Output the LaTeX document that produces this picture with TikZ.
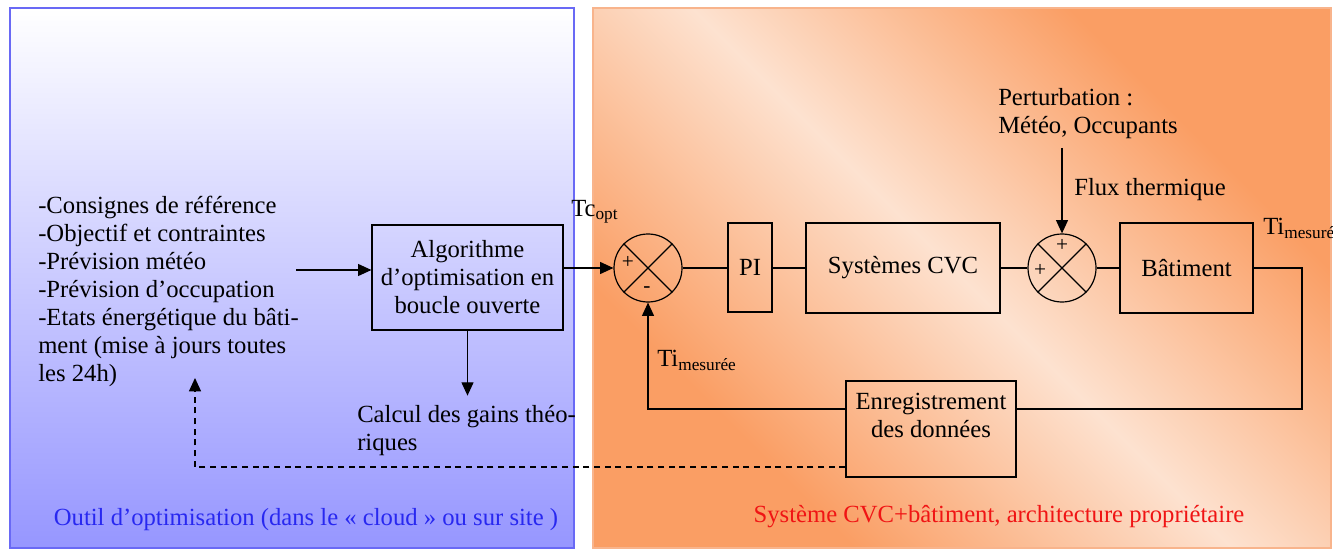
\documentclass[tikz,border=0pt]{standalone}
\usepackage{fontspec}
\setmainfont{Liberation Serif}
\newfontfamily\lserif{Liberation Serif}
\usetikzlibrary{arrows.meta,calc}
\definecolor{blueB}{RGB}{105,105,245}
\definecolor{blueL}{RGB}{150,150,255}
\definecolor{orD}{RGB}{250,158,100}
\definecolor{orL}{RGB}{253,226,208}
\definecolor{orB}{RGB}{248,180,140}
\definecolor{txtblue}{RGB}{40,40,240}
\definecolor{txtred}{RGB}{240,20,20}
\pgfdeclarehorizontalshading{peach}{100bp}{color(0bp)=(orD); color(29bp)=(orD); color(50bp)=(orL); color(71bp)=(orD); color(100bp)=(orD)}
\begin{document}
\begin{tikzpicture}[x=0.75pt,y=-0.75pt,
 every node/.style={font=\lserif\fontsize{18.5}{21}\selectfont},
 lw/.style={line width=0.9pt},
 blk/.style={draw, lw, align=center, inner sep=2pt},
 summer/.style={draw, lw, circle, minimum size=51pt, inner sep=0pt},
 arr/.style={lw, -{Triangle[length=10pt,width=9pt]}},
 ln/.style={lw},
 txt/.style={align=left, inner sep=0pt},
 sgn/.style={font=\lserif\fontsize{16}{16}\selectfont, inner sep=0pt},
 dsh/.style={dash pattern=on 4.5pt off 3.5pt}]
\useasboundingbox (0,0) rectangle (1333,552);
\shade[top color=white, bottom color=blueL, draw=blueB, line width=1.2pt] (10,8) rectangle (574,548);
\shade[shading=peach, shading angle=45, draw=orB, line width=1.2pt] (593,8) rectangle (1331,548);

\node[txt, anchor=west] (list) at (38,291) {-Consignes de référence\\-Objectif et contraintes\\-Prévision météo\\-Prévision d’occupation\\-Etats énergétique du bâti-\\ment (mise à jours toutes\\les 24h)};
\node[blk, minimum width=143.25pt, minimum height=78.75pt] (algo) at (467.5,277.5) {Algorithme\\d’optimisation en\\boucle ouverte};
\node[txt, anchor=north west] (calc) at (357,405) {Calcul des gains théo-\\riques};
\node[summer] (s1) at (648,268) {};
\node[blk, minimum width=33pt, minimum height=66.75pt] (pi) at (750,267.5) {PI};
\node[blk, minimum width=145.5pt, minimum height=67.5pt] (cvc) at (903,268) {Systèmes CVC};
\node[summer] (s2) at (1062,268) {};
\node[blk, minimum width=99.75pt, minimum height=67.5pt] (bat) at (1186.5,268) {Bâtiment};
\node[blk, minimum width=127.5pt, minimum height=72pt] (enr) at (931,429) {Enregistrement\\des données\\~};

\node[sgn] (p1) at (628,262) {+};
\node[sgn] (m1) at (647,290) {-};
\node[sgn] (p2) at (1062,245) {+};
\node[sgn] (p3) at (1040,270) {+};

\node[txt, anchor=west] (tc) at (571,212) {Tc\textsubscript{opt}};
\node[txt, anchor=west] (ti1) at (657,360) {Ti\textsubscript{mesurée}};
\node[txt, anchor=west] (ti2) at (1263,228) {Ti\textsubscript{mesurée}};
\node[txt, anchor=west] (pt) at (998,114) {Perturbation :\\Météo, Occupants};
\node[txt, anchor=west] (flux) at (1074,190) {Flux thermique};
\node[inner sep=0pt, text=txtblue] (lblL) at (306,520) {Outil d’optimisation (dans le «~cloud~» ou sur site )};
\node[inner sep=0pt, text=txtred] (lblR) at (999,517) {Système CVC+bâtiment, architecture propriétaire};

\draw[ln] (s1.45) -- (s1.225) (s1.135) -- (s1.-45);
\draw[ln] (s2.45) -- (s2.225) (s2.135) -- (s2.-45);

\coordinate (inp) at (296,270);
\draw[arr] (inp) -- (inp -| algo.west);
\draw[arr] (algo.south) -- ([yshift=7pt]algo.south |- calc.north);
\draw[arr] (algo.east |- s1) -- (s1.west);
\draw[ln] (s1.east) -- (pi.west |- s1);
\draw[ln] (pi.east |- s1) -- (cvc.west |- s1);
\draw[ln] (cvc.east) -- (s2.west);
\draw[ln] (s2.east) -- (bat.west);
\coordinate (pert) at (1062,148);
\draw[arr] (pert) -- (s2.north);
\coordinate (fb) at (1302,409);
\draw[ln] (bat.east) -| (fb) -- (fb -| enr.east);
\draw[arr] (enr.west |- fb) -| (s1.south);
\coordinate (dd) at (195,467);
\coordinate (de) at (195,378);
\draw[arr, dsh] (enr.west |- dd) -- (dd) -- (de);
\end{tikzpicture}
\end{document}
